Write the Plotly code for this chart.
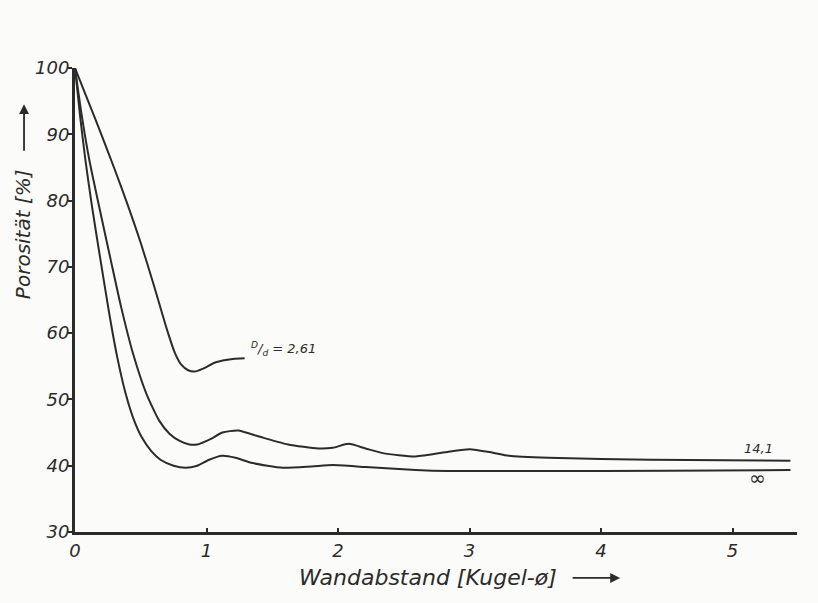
import plotly.graph_objects as go

# Porosity profiles near a container wall, distance in sphere diameters
x_261 = [0.0, 0.10, 0.20, 0.30, 0.40, 0.50, 0.60, 0.70, 0.76, 0.81, 0.86, 0.91, 0.97, 1.07, 1.20, 1.29]
p_261 = [100, 95.0, 90.0, 84.8, 79.4, 73.6, 67.2, 60.5, 57.0, 55.2, 54.4, 54.2, 54.6, 55.6, 56.1, 56.2]

x_141 = [0.0, 0.05, 0.11, 0.19, 0.27, 0.35, 0.44, 0.54, 0.64, 0.72, 0.80, 0.87, 0.93, 1.03, 1.12, 1.24,
         1.40, 1.62, 1.85, 1.96, 2.08, 2.21, 2.34, 2.59, 2.84, 3.00, 3.17, 3.30, 3.60, 4.37, 5.44]
p_141 = [100, 93, 86, 78.5, 71.2, 64, 57, 51, 46.8, 44.8, 43.7, 43.2, 43.2, 44.0, 45.0, 45.3,
         44.4, 43.2, 42.6, 42.7, 43.3, 42.6, 41.9, 41.4, 42.1, 42.5, 42.0, 41.5, 41.2, 40.9, 40.75]

x_inf = [0.0, 0.04, 0.08, 0.13, 0.19, 0.26, 0.32, 0.385, 0.45, 0.51, 0.58, 0.65, 0.75, 0.84, 0.93,
         1.02, 1.12, 1.22, 1.35, 1.58, 1.80, 1.96, 2.21, 2.59, 2.84, 3.50, 4.50, 5.44]
p_inf = [100, 92.5, 86, 79, 71.5, 63, 56.5, 50.9, 46.8, 44.2, 42.2, 40.9, 40.0, 39.7, 40.0,
         40.9, 41.5, 41.2, 40.4, 39.7, 39.9, 40.1, 39.8, 39.35, 39.2, 39.2, 39.25, 39.35]

x_ticks = [0, 1, 2, 3, 4, 5]
y_ticks = [30, 40, 50, 60, 70, 80, 90, 100]

INK = "#2b2b2b"
FONT = "DejaVu Sans"

fig = go.Figure()
for xs, ys in [(x_261, p_261), (x_141, p_141), (x_inf, p_inf)]:
    fig.add_trace(go.Scatter(
        x=xs, y=ys, mode="lines",
        line=dict(color=INK, width=2, shape="spline", smoothing=0.6),
        showlegend=False, hoverinfo="skip",
    ))

# curve labels
label_font = dict(family=FONT, size=13, color=INK, style="italic")
fig.add_annotation(x=1.32, y=57.6, xanchor="left", yanchor="middle", showarrow=False,
                   text="<sup>D</sup>/<sub>d</sub> = 2,61", font=label_font)
fig.add_annotation(x=5.2, y=42.6, xanchor="center", yanchor="middle", showarrow=False,
                   text="14,1", font=label_font)
fig.add_annotation(x=5.19, y=38.1, xanchor="center", yanchor="middle", showarrow=False,
                   text="∞", font=dict(family=FONT, size=20, color=INK))

# axis titles with direction arrows
fig.add_annotation(xref="paper", yref="paper", x=-0.072, y=0.642,
                   xanchor="center", yanchor="middle", textangle=-90, showarrow=False,
                   text="Porosität [%]", font=dict(family=FONT, size=20, color=INK, style="italic"))
fig.add_annotation(xref="paper", yref="paper", x=-0.0706, y=0.922, text="",
                   showarrow=True, ax=0, ay=48, arrowhead=2, arrowsize=1.1,
                   arrowwidth=1.8, arrowcolor=INK)
fig.add_annotation(xref="paper", yref="paper", x=0.4896, y=-0.099,
                   xanchor="center", yanchor="middle", showarrow=False,
                   text="Wandabstand [Kugel-ø]", font=dict(family=FONT, size=22, color=INK, style="italic"))
fig.add_annotation(xref="paper", yref="paper", x=0.755, y=-0.099, text="",
                   showarrow=True, ax=-49, ay=0, arrowhead=2, arrowsize=1.1,
                   arrowwidth=1.8, arrowcolor=INK)

tick_font = dict(family=FONT, size=18, color=INK, style="italic")
fig.update_xaxes(range=[0, 5.49], tickvals=x_ticks, ticktext=[str(v) for v in x_ticks],
                 showgrid=False, zeroline=False, showline=True, linewidth=3, linecolor=INK,
                 ticks="inside", ticklen=4, tickwidth=1.5, tickcolor=INK, tickfont=tick_font)
fig.update_yaxes(range=[30, 100], tickvals=y_ticks, ticktext=[str(v) for v in y_ticks],
                 showgrid=False, zeroline=False, showline=True, linewidth=3, linecolor=INK,
                 ticks="outside", ticklen=4, tickwidth=1.5, tickcolor=INK, tickfont=tick_font,
                 ticklabelstandoff=-5)

fig.update_layout(
    width=818, height=603,
    margin=dict(l=75, r=21, t=68, b=71),
    paper_bgcolor="#fbfbf9", plot_bgcolor="#fbfbf9",
)

fig.write_html("out.html")
